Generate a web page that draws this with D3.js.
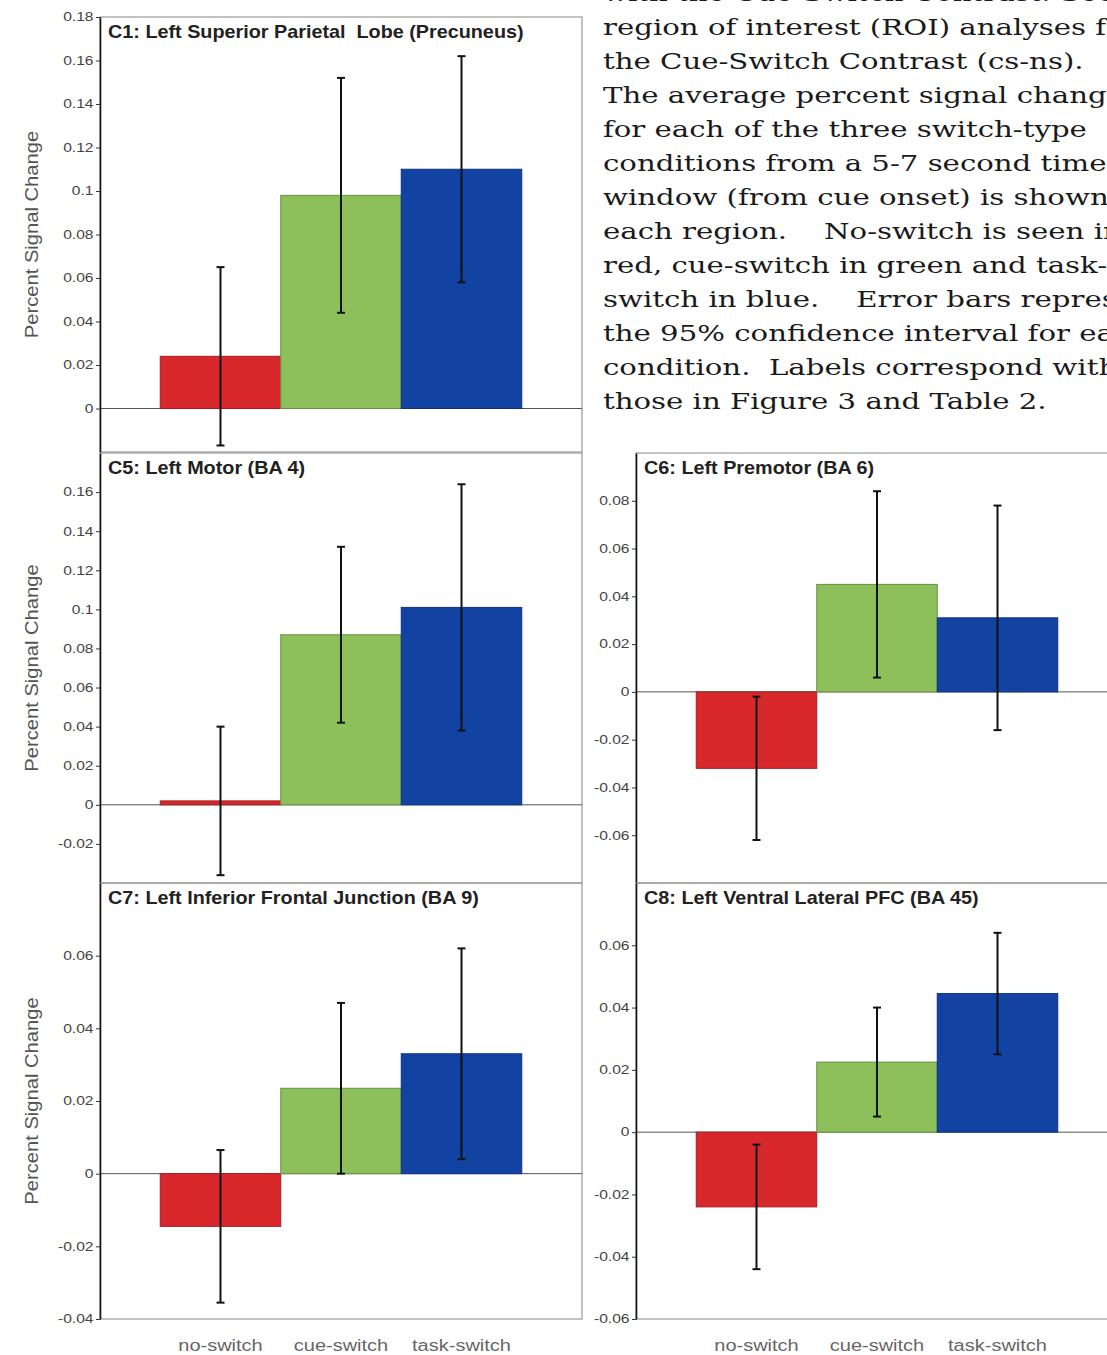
<!DOCTYPE html>
<html>
<head>
<meta charset="utf-8">
<script src="https://cdn.jsdelivr.net/npm/d3@7"></script>
<style>
  body { margin: 0; background: #fff; }
  svg { display: block; }
</style>
</head>
<body>
<div id="drawing_region"></div>
<script>
// condition names and colours
const categories = ["no-switch", "cue-switch", "task-switch"];
const barColors = ["#d8282c", "#8dc05b", "#1243a3"];

// mean percent signal change per region (no, cue, task)
const meanC1 = [0.024, 0.098, 0.110];
const meanC5 = [0.002, 0.087, 0.101];
const meanC6 = [-0.032, 0.045, 0.031];
const meanC7 = [-0.0145, 0.0235, 0.033];
const meanC8 = [-0.024, 0.0225, 0.0445];

// 95% confidence half-widths
const ciC1 = [0.041, 0.054, 0.052];
const ciC5 = [0.038, 0.045, 0.063];
const ciC6 = [0.030, 0.039, 0.047];
const ciC7 = [0.021, 0.0235, 0.029];
const ciC8 = [0.020, 0.0175, 0.0195];

// y tick labels
const ticksC1 = [0, 0.02, 0.04, 0.06, 0.08, 0.1, 0.12, 0.14, 0.16, 0.18];
const ticksC5 = [-0.02, 0, 0.02, 0.04, 0.06, 0.08, 0.1, 0.12, 0.14, 0.16];
const ticksC6 = [-0.06, -0.04, -0.02, 0, 0.02, 0.04, 0.06, 0.08];
const ticksC7 = [-0.04, -0.02, 0, 0.02, 0.04, 0.06];
const ticksC8 = [-0.06, -0.04, -0.02, 0, 0.02, 0.04, 0.06];

const titles = [
    "C1: Left Superior Parietal  Lobe (Precuneus)",
    "C5: Left Motor (BA 4)",
    "C6: Left Premotor (BA 6)",
    "C7: Left Inferior Frontal Junction (BA 9)",
    "C8: Left Ventral Lateral PFC (BA 45)"
];

const captionLines = [
    "with the Cue-Switch Contrast. See",
    "region of interest (ROI) analyses for",
    "the Cue-Switch Contrast (cs-ns).",
    "The average percent signal change",
    "for each of the three switch-type",
    "conditions from a 5-7 second time",
    "window (from cue onset) is shown for",
    "each region.    No-switch is seen in",
    "red, cue-switch in green and task-",
    "switch in blue.    Error bars represent",
    "the 95% confidence interval for each",
    "condition.  Labels correspond with",
    "those in Figure 3 and Table 2."
];

const width = 1107, height = 1355;
const sans = "Liberation Sans, Arial, sans-serif";
const svg = d3.select("#drawing_region").append("svg")
    .attr("width", width)
    .attr("height", height);

const panels = [
    { title: titles[0], mean: meanC1, ci: ciC1, ticks: ticksC1, domain: [-0.02, 0.18], x: 100, y: 17,  w: 482, h: 435, ylabel: true,  xlabels: false },
    { title: titles[1], mean: meanC5, ci: ciC5, ticks: ticksC5, domain: [-0.04, 0.18], x: 100, y: 453, w: 482, h: 430, ylabel: true,  xlabels: false },
    { title: titles[2], mean: meanC6, ci: ciC6, ticks: ticksC6, domain: [-0.08, 0.10], x: 636, y: 453, w: 482, h: 430, ylabel: false, xlabels: false },
    { title: titles[3], mean: meanC7, ci: ciC7, ticks: ticksC7, domain: [-0.04, 0.08], x: 100, y: 883, w: 482, h: 436, ylabel: true,  xlabels: true },
    { title: titles[4], mean: meanC8, ci: ciC8, ticks: ticksC8, domain: [-0.06, 0.08], x: 636, y: 883, w: 482, h: 436, ylabel: false, xlabels: true }
];

const fmt = d => String(+d.toFixed(2));

panels.forEach(p => {
    const g = svg.append("g").attr("transform", `translate(${p.x}, ${p.y})`);
    const xscale = d3.scaleBand().domain(categories).range([0, p.w]).paddingInner(0).paddingOuter(0.5);
    const yscale = d3.scaleLinear().domain(p.domain).range([p.h, 0]);
    const data = categories.map((c, i) => ({ label: c, value: p.mean[i], ci: p.ci[i], color: barColors[i] }));

    // frame
    g.append("rect")
        .attr("width", p.w).attr("height", p.h)
        .attr("fill", "none").attr("stroke", "#9a9a9a").attr("stroke-width", 1.2);

    // zero line
    g.append("line")
        .attr("x1", 0).attr("x2", p.w)
        .attr("y1", yscale(0)).attr("y2", yscale(0))
        .attr("stroke", "#555").attr("stroke-width", 1);

    g.selectAll("rect.bar").data(data).enter().append("rect")
        .attr("class", "bar")
        .attr("x", d => xscale(d.label))
        .attr("y", d => yscale(Math.max(0, d.value)))
        .attr("width", xscale.bandwidth())
        .attr("height", d => Math.abs(yscale(d.value) - yscale(0)))
        .attr("fill", d => d.color)
        .attr("stroke", d => d3.color(d.color).darker(0.8))
        .attr("stroke-width", 1);

    // error bars
    const err = g.selectAll("g.err").data(data).enter().append("g")
        .attr("class", "err")
        .attr("stroke", "#111").attr("stroke-width", 2);
    const cx = d => xscale(d.label) + xscale.bandwidth() / 2;
    err.append("line")
        .attr("x1", cx).attr("x2", cx)
        .attr("y1", d => yscale(d.value + d.ci)).attr("y2", d => yscale(d.value - d.ci));
    err.append("line")
        .attr("x1", d => cx(d) - 4).attr("x2", d => cx(d) + 4)
        .attr("y1", d => yscale(d.value + d.ci)).attr("y2", d => yscale(d.value + d.ci));
    err.append("line")
        .attr("x1", d => cx(d) - 4).attr("x2", d => cx(d) + 4)
        .attr("y1", d => yscale(d.value - d.ci)).attr("y2", d => yscale(d.value - d.ci));

    // y axis
    const yaxis = d3.axisLeft(yscale).tickValues(p.ticks).tickFormat(fmt).tickSize(4).tickSizeOuter(0);
    const ag = g.append("g").call(yaxis);
    ag.select(".domain").attr("stroke", "#111").attr("stroke-width", 1.6);
    ag.selectAll(".tick line").attr("stroke", "#333");
    ag.selectAll(".tick text")
        .attr("font-family", sans)
        .attr("font-size", 12)
        .attr("fill", "#444")
        .attr("x", -5)
        .attr("transform", "scale(1.3, 1)");

    // title
    g.append("text")
        .attr("transform", "translate(8, 21) scale(1.1, 1)")
        .attr("font-family", sans)
        .attr("font-weight", "bold")
        .attr("font-size", 18)
        .attr("fill", "#222")
        .style("white-space", "pre")
        .text(p.title);

    if (p.ylabel) {
        g.append("text")
            .attr("transform", `translate(-62, ${p.h / 2}) rotate(-90) scale(1.12, 1)`)
            .attr("text-anchor", "middle")
            .attr("font-family", sans)
            .attr("font-size", 18)
            .attr("fill", "#555")
            .text("Percent Signal Change");
    }

    if (p.xlabels) {
        g.selectAll("text.cat").data(categories).enter().append("text")
            .attr("class", "cat")
            .attr("transform", d => `translate(${xscale(d) + xscale.bandwidth() / 2}, ${p.h + 32}) scale(1.25, 1)`)
            .attr("text-anchor", "middle")
            .attr("font-family", sans)
            .attr("font-size", 16)
            .attr("fill", "#666")
            .text(d => d);
    }
});

// caption text on the right (wide serif, stretched horizontally)
svg.append("g")
    .attr("transform", "translate(603, 0) scale(1.27, 1)")
    .selectAll("text").data(captionLines).enter().append("text")
    .attr("x", 0)
    .attr("y", (d, i) => 1 + i * 34)
    .attr("font-family", "DejaVu Serif, serif")
    .attr("font-size", 23)
    .attr("fill", "#1a1a1a")
    .style("white-space", "pre")
    .text(d => d);
</script>
</body>
</html>
